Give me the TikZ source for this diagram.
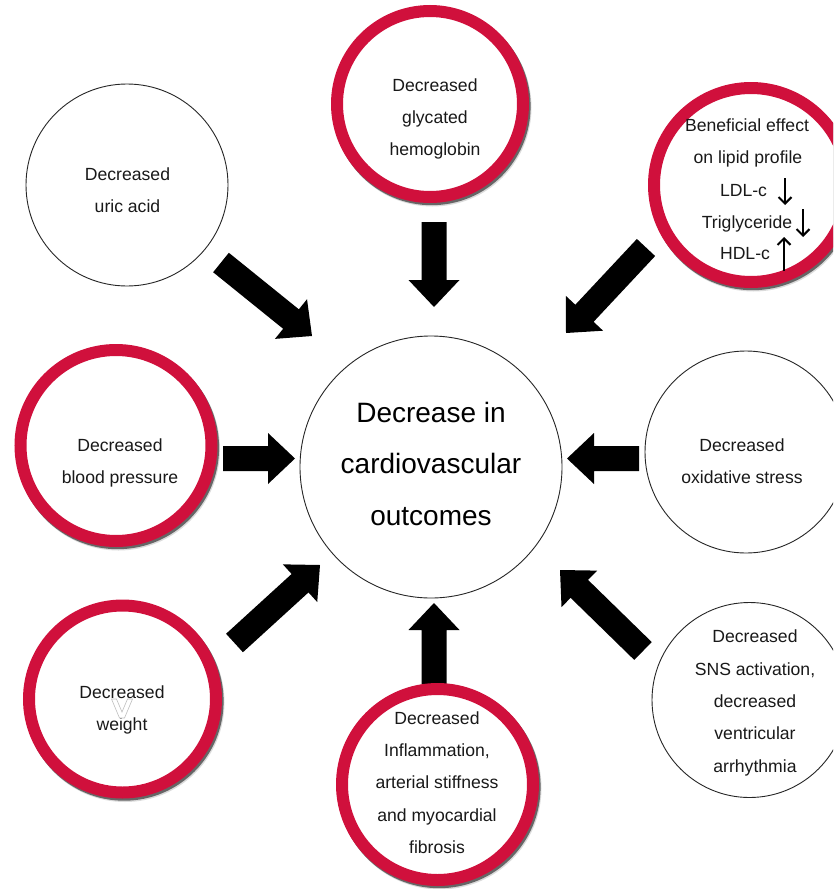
\documentclass[tikz,border=0pt]{standalone}
\usepackage{fontspec}
\setmainfont{Liberation Sans}
\usetikzlibrary{calc,arrows.meta,shapes.geometric}
\definecolor{ringred}{RGB}{208,16,60}

% block arrow from tail coordinate #1 to tip coordinate #2
\newcommand\blockarrow[2]{%
  \coordinate (ab) at ($(#2)!27pt!(#1)$);
  \fill[arrowfill] ($(#1)!12.5pt!90:(#2)$) -- ($(ab)!12.5pt!-90:(#1)$) --
    ($(ab)!25.5pt!-90:(#1)$) -- (#2) -- ($(ab)!25.5pt!90:(#1)$) --
    ($(ab)!12.5pt!90:(#1)$) -- ($(#1)!12.5pt!-90:(#2)$) -- cycle;}

% shadow under a red ring: #1 centre, #2 outer radius
\newcommand\ringshadow[2]{%
  \fill[softshadow] ($(#1)+(2.5,3.5)$) circle[radius=#2pt];
  \fill[hardshadow] ($(#1)+(1.6,2.2)$) circle[radius=#2pt];}

\begin{document}
\begin{tikzpicture}[x=1pt,y=-1pt,
  plain/.style={circle, draw=black!85, line width=0.9pt, fill=white, inner sep=0pt, outer sep=0pt},
  redc/.style={circle, draw=ringred, line width=12pt, fill=white, inner sep=0pt, outer sep=0pt},
  txt/.style={align=center, font=\fontsize{17.6}{32.3}\selectfont, text=black!90, inner sep=0pt},
  lipidline/.style={txt, text height=12.6pt, text depth=0pt},
  bigtxt/.style={align=center, font=\fontsize{28}{51.5}\selectfont, text=black, inner sep=0pt},
  arrowfill/.style={fill=black},
  softshadow/.style={fill=black!14},
  hardshadow/.style={fill=black!60},
  smallarr/.style={line width=2.1pt, -{Straight Barb[length=6.5pt,width=13pt]}}
]
\useasboundingbox (0,0) rectangle (833,889);
\clip (0,0) rectangle (833,889);

% centres
\coordinate (cUA) at (127,185);
\coordinate (cGH) at (430,104);
\coordinate (cLP) at (751,185);
\coordinate (cBP) at (116,445.5);
\coordinate (cC)  at (431,467);
\coordinate (cOX) at (746,452);
\coordinate (cWT) at (122.5,699);
\coordinate (cIN) at (437.5,784.5);
\coordinate (cSN) at (749.5,700);

% arrows (tail, tip)
\coordinate (a1s) at (221,262.5);  \coordinate (a1e) at (312,336);
\coordinate (a2s) at (434,222);    \coordinate (a2e) at (434,307);
\coordinate (a3s) at (646,247.5);  \coordinate (a3e) at (566,333);
\coordinate (a4s) at (223,458.5);  \coordinate (a4e) at (295,458.5);
\coordinate (a5s) at (639,458.5);  \coordinate (a5e) at (567,458.5);
\coordinate (a6s) at (234.5,643);  \coordinate (a6e) at (320,565);
\coordinate (a7s) at (434,684);    \coordinate (a7e) at (434,603);
\coordinate (a8s) at (643,651);    \coordinate (a8e) at (560,570);
\blockarrow{a1s}{a1e}
\blockarrow{a2s}{a2e}
\blockarrow{a3s}{a3e}
\blockarrow{a4s}{a4e}
\blockarrow{a5s}{a5e}
\blockarrow{a6s}{a6e}
\blockarrow{a7s}{a7e}
\blockarrow{a8s}{a8e}

% plain circles
\node[plain, minimum size=202pt] (UA) at (cUA) {};
\node[plain, minimum size=262pt] (C)  at (cC)  {};
\node[plain, minimum size=202pt] (OX) at (cOX) {};
\node[plain, minimum size=195pt] (SN) at (cSN) {};

% red circles with shadows
\ringshadow{cGH}{99}
\node[redc, minimum size=186pt] (GH) at (cGH) {};
\ringshadow{cLP}{103}
\node[redc, minimum size=194pt] (LP) at (cLP) {};
\ringshadow{cBP}{101.5}
\node[redc, minimum size=191pt] (BP) at (cBP) {};
\ringshadow{cWT}{99.5}
\node[redc, minimum size=187pt] (WT) at (cWT) {};
\ringshadow{cIN}{101.5}
\node[redc, minimum size=191pt] (IN) at (cIN) {};

% texts
\node[txt] (tUA) at (127.5,190.5) {Decreased\\uric acid};
\node[txt] (tGH) at (435,119) {Decreased\\glycated\\hemoglobin};
\node[lipidline] (tLP1) at (747,125) {Beneficial effect};
\node[lipidline] (tLP2) at (748,157) {on lipid profile};
\node[lipidline] (tLP3) at (743.5,190) {LDL-c};
\node[lipidline] (tLP4) at (747,222) {Triglyceride};
\node[lipidline] (tLP5) at (745,253) {HDL-c};
\coordinate (l1s) at (785,178); \coordinate (l1e) at (785,205);
\coordinate (l2s) at (803,209); \coordinate (l2e) at (803,237);
\coordinate (l3s) at (784,271); \coordinate (l3e) at (784,237);
\draw[smallarr] (l1s) -- (l1e);
\draw[smallarr] (l2s) -- (l2e);
\draw[smallarr] (l3s) -- (l3e);
\node[txt] (tBP) at (120,463) {Decreased\\blood pressure};
\node[bigtxt] (tC) at (431,463.5) {Decrease in\\cardiovascular\\outcomes};
\node[txt] (tOX) at (742,461.5) {Decreased\\oxidative stress};
\node[txt] (tWT) at (122,710) {Decreased\\weight};
\node[txt] (tIN) at (437,782.5) {Decreased\\Inflammation,\\arterial stiffness\\and myocardial\\fibrosis};
\node[txt] (tSN) at (755,703) {Decreased\\SNS activation,\\decreased\\ventricular\\arrhythmia};

% stray white V mark over the weight text
\filldraw[fill=white, draw=black!25, line width=0.6pt]
  (111.5,699) -- (116.5,699) -- (122,712) -- (127.5,699) -- (132.5,699) -- (124.5,718) -- (119.5,718) -- cycle;
\end{tikzpicture}
\end{document}
